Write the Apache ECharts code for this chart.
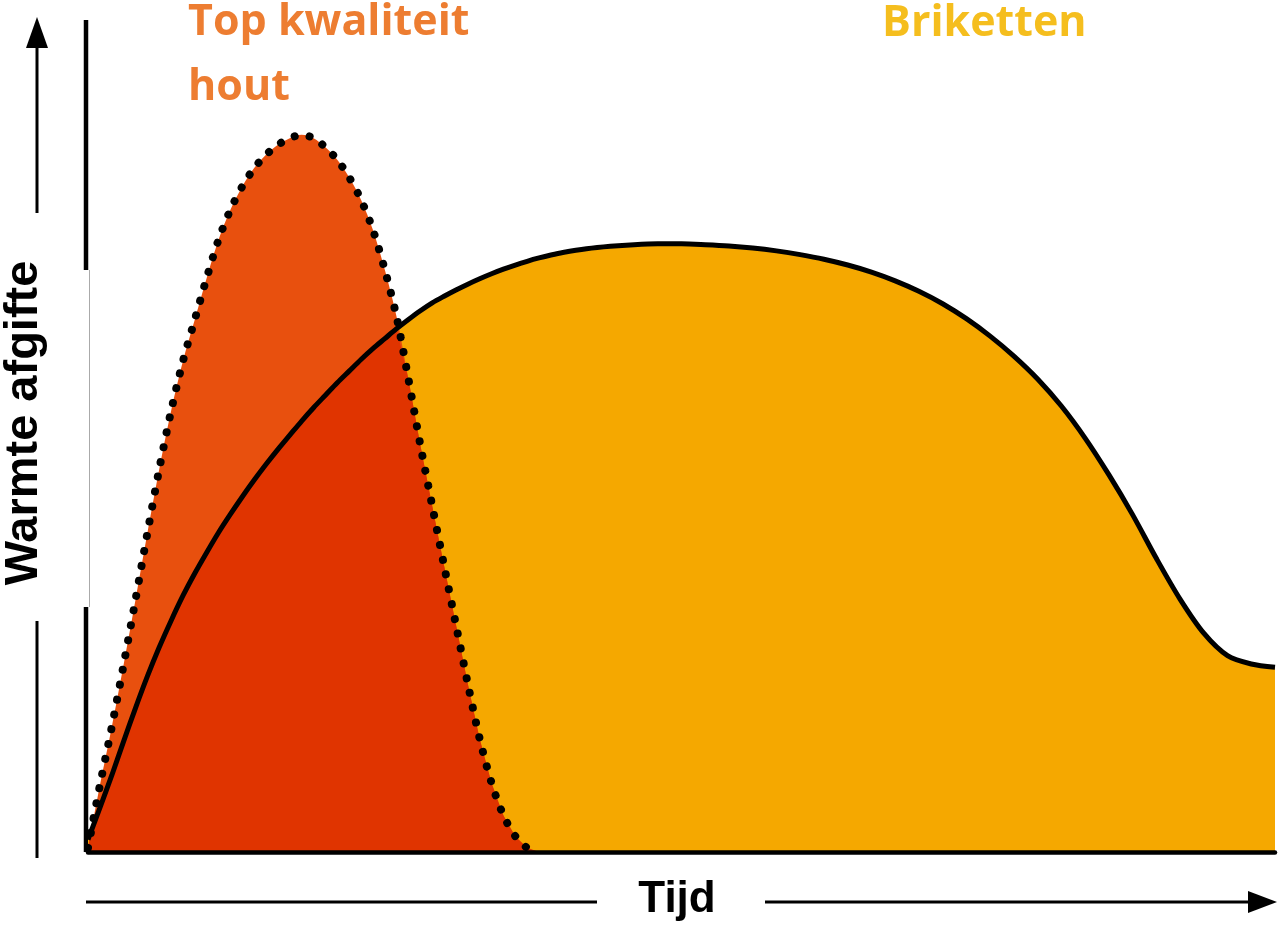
<!doctype html>
<html>
<head>
<meta charset="utf-8">
<title>Warmte afgifte: hout en briketten</title>
<script src="https://cdn.jsdelivr.net/npm/echarts/dist/echarts.min.js"></script>
<style>
html, body { margin: 0; padding: 0; background: #fff; }
#main { width: 1280px; height: 927px; }
</style>
</head>
<body>
<div id="main"></div>
<script>
// tijd (0-100) en warmte afgifte (0-100)
var brikTijd = [0,1,2,3,4,5,6,7,8,9,10,11,12,13,14,15,16,17,18,19,20,
    21,22,23,24,25,26,27,28,29,30,31,32,33,34,35,36,37,38,39,40,
    42,44,46,48,50,52,54,56,58,60,62,64,66,68,70,72,74,76,78,80,
    82,84,86,88,90,92,94,96,98,100];
var briketten = [1.5,5.3,9.2,13.3,17.3,21.1,24.6,27.8,30.8,33.5,36.0,
    38.4,40.6,42.7,44.7,46.6,48.4,50.1,51.8,53.4,54.9,
    56.4,57.8,59.2,60.5,61.7,62.9,64.0,65.05,66.0,66.8,
    67.55,68.25,68.9,69.5,70.05,70.55,71.0,71.4,71.75,72.05,
    72.5,72.8,73.0,73.1,73.1,73.0,72.85,72.6,72.25,71.8,
    71.25,70.55,69.7,68.65,67.4,65.9,64.1,62.0,59.6,56.85,
    53.6,49.75,45.35,40.55,35.3,30.4,26.3,23.6,22.6,22.2];

var houtTijd = [0,1,2,3,4,5,6,7,8,9,10,11,12,13,14,15,16,17,18,19,
    20,21,22,23,24,25,26,27,28,29,30,31,32,33,34,35,36,37,38];
var hout = [0.5,8.0,15.0,22.5,30.3,38.3,46.0,53.0,59.0,64.0,
    69.0,73.6,77.2,80.0,82.2,83.8,85.0,85.8,86.2,85.8,
    84.7,83.2,81.1,78.4,74.8,70.0,64.3,56.8,48.9,41.6,
    34.4,27.3,20.2,13.6,8.3,4.4,1.9,0.5,0];

function paren(xs, ys) {
    return xs.map(function (x, i) { return [x, ys[i]]; });
}

// overlap = onderkant van beide curves (hout ligt op de eerste stappen van brikTijd)
function overlap() {
    var out = [];
    for (var i = 0; i < hout.length; i++) {
        out.push([houtTijd[i], Math.min(hout[i], briketten[i])]);
        if (i + 1 < hout.length) {
            var d0 = hout[i] - briketten[i];
            var d1 = hout[i + 1] - briketten[i + 1];
            if (d0 * d1 < 0) {
                var t = d0 / (d0 - d1);
                out.push([houtTijd[i] + t, hout[i] + t * (hout[i + 1] - hout[i])]);
            }
        }
    }
    return out;
}

var myChart = echarts.init(document.getElementById('main'));

var geenSymbool = { showSymbol: false, silent: true, animation: false };

function vlak(naam, data, kleur, glad) {
    return Object.assign({
        name: naam, type: 'line', data: data, smooth: glad,
        lineStyle: { width: 0 },
        areaStyle: { color: kleur, opacity: 1 }
    }, geenSymbool);
}

var option = {
    backgroundColor: '#fff',
    animation: false,
    grid: { left: 88, right: 5, top: 20, bottom: 75 },
    xAxis: {
        type: 'value', min: 0, max: 100, z: 10,
        axisLine: { show: true, onZero: false, lineStyle: { color: '#000', width: 4.5 } },
        axisTick: { show: false }, axisLabel: { show: false }, splitLine: { show: false }
    },
    yAxis: {
        type: 'value', min: 0, max: 100,
        axisLine: { show: false }, axisTick: { show: false },
        axisLabel: { show: false }, splitLine: { show: false }
    },
    series: [
        vlak('Briketten', paren(brikTijd, briketten), '#F5A800', 0.3),
        vlak('Top kwaliteit hout', paren(houtTijd, hout), '#E8500E', 0.3),
        vlak('overlap', overlap(), '#E03400', false),
        Object.assign({
            type: 'line', data: paren(brikTijd, briketten), smooth: 0.3,
            lineStyle: { color: '#000', width: 5 }
        }, geenSymbool),
        Object.assign({
            type: 'line', data: paren(houtTijd, hout), smooth: 0.3,
            lineStyle: { color: '#000', width: 8, type: [0.1, 15], cap: 'round' }
        }, geenSymbool)
    ],
    graphic: [
        // verticale as (met dun grijs middenstuk zoals in het origineel)
        { type: 'line', shape: { x1: 86, y1: 20, x2: 86, y2: 270 }, style: { stroke: '#000', lineWidth: 4.5 } },
        { type: 'line', shape: { x1: 89.5, y1: 270, x2: 89.5, y2: 607 }, style: { stroke: '#aaa', lineWidth: 1 } },
        { type: 'line', shape: { x1: 86, y1: 607, x2: 86, y2: 852 }, style: { stroke: '#000', lineWidth: 4.5 } },
        // pijl warmte afgifte
        { type: 'line', shape: { x1: 37, y1: 858, x2: 37, y2: 621 }, style: { stroke: '#000', lineWidth: 3 } },
        { type: 'line', shape: { x1: 37, y1: 213, x2: 37, y2: 45 }, style: { stroke: '#000', lineWidth: 3 } },
        { type: 'polygon', shape: { points: [[37, 17], [26, 48], [48, 48]] }, style: { fill: '#000' } },
        // pijl tijd
        { type: 'line', shape: { x1: 86, y1: 902, x2: 597, y2: 902 }, style: { stroke: '#000', lineWidth: 3 } },
        { type: 'line', shape: { x1: 765, y1: 902, x2: 1252, y2: 902 }, style: { stroke: '#000', lineWidth: 3 } },
        { type: 'polygon', shape: { points: [[1277, 902], [1248, 891], [1248, 913]] }, style: { fill: '#000' } },
        // teksten
        {
            type: 'text', x: 24, y: 423, rotation: Math.PI / 2,
            style: { text: 'Warmte afgifte', align: 'center', verticalAlign: 'middle',
                font: 'bold 47px "Liberation Sans", Arial, sans-serif', fill: '#000' }
        },
        {
            type: 'text', x: 677, y: 900,
            style: { text: 'Tijd', align: 'center', verticalAlign: 'middle',
                font: 'bold 44px "Liberation Sans", Arial, sans-serif', fill: '#000' }
        },
        {
            type: 'text', x: 188, y: 23,
            style: { text: 'Top kwaliteit', align: 'left', verticalAlign: 'middle',
                font: 'bold 43px "Open Sans", sans-serif', fill: '#ED7D31' }
        },
        {
            type: 'text', x: 188, y: 88,
            style: { text: 'hout', align: 'left', verticalAlign: 'middle',
                font: 'bold 43px "Open Sans", sans-serif', fill: '#ED7D31' }
        },
        {
            type: 'text', x: 882, y: 24,
            style: { text: 'Briketten', align: 'left', verticalAlign: 'middle',
                font: 'bold 43px "Open Sans", sans-serif', fill: '#F5BE1E' }
        }
    ]
};

myChart.setOption(option);
</script>
</body>
</html>
